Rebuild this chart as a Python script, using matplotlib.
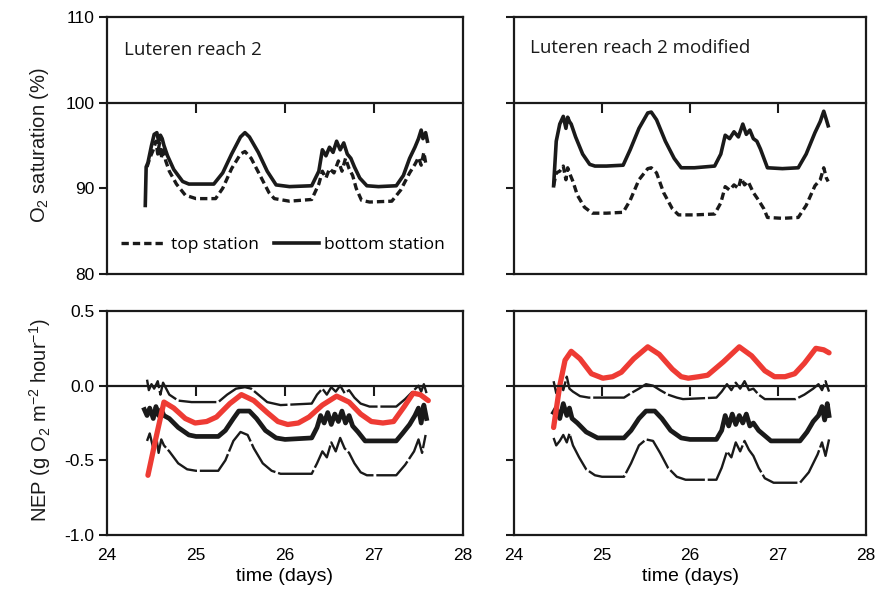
import matplotlib.pyplot as plt

plt.rcParams['font.family'] = ['Liberation Sans', 'DejaVu Sans']
plt.rcParams['mathtext.default'] = 'regular'

# ---- O2 saturation, Luteren reach 2 ----
t_tl_bot = [24.43, 24.44, 24.46, 24.50, 24.53, 24.56, 24.58, 24.60, 24.62, 24.64, 24.68, 24.75,
            24.85, 24.92, 25.05, 25.20, 25.30, 25.40, 25.50, 25.55, 25.60, 25.70, 25.80, 25.90,
            26.05, 26.30, 26.38, 26.42, 26.46, 26.50, 26.54, 26.58, 26.62, 26.66, 26.70, 26.74,
            26.78, 26.84, 26.92, 27.05, 27.25, 27.33, 27.40, 27.46, 27.50, 27.53, 27.55, 27.58, 27.60]
o2_tl_bot = [88.0, 92.5, 93.0, 95.0, 96.3, 96.5, 95.5, 96.2, 95.8, 95.0, 93.8, 92.2,
             90.8, 90.5, 90.5, 90.5, 91.8, 94.0, 96.0, 96.5, 96.0, 94.2, 92.0, 90.4,
             90.2, 90.3, 92.0, 94.5, 93.8, 94.8, 94.2, 95.5, 94.5, 95.3, 94.0, 93.5,
             92.5, 91.2, 90.3, 90.2, 90.3, 91.5, 93.5, 94.8, 95.8, 96.8, 95.8, 96.5, 95.5]

t_tl_top = [24.45, 24.48, 24.52, 24.55, 24.57, 24.59, 24.61, 24.63, 24.66, 24.70, 24.78, 24.88,
            25.00, 25.22, 25.30, 25.40, 25.50, 25.55, 25.62, 25.72, 25.82, 25.88, 26.05, 26.30,
            26.38, 26.42, 26.46, 26.50, 26.55, 26.60, 26.64, 26.68, 26.72, 26.76, 26.80, 26.86,
            26.95, 27.20, 27.30, 27.40, 27.46, 27.50, 27.53, 27.56, 27.58]
o2_tl_top = [92.5, 93.5, 94.5, 95.5, 94.0, 95.3, 93.5, 94.8, 93.2, 92.0, 90.5, 89.2,
             88.8, 88.8, 90.0, 92.3, 94.0, 94.3, 93.5, 91.5, 89.5, 88.8, 88.5, 88.7,
             90.5, 92.0, 91.2, 92.3, 91.8, 93.2, 92.0, 93.5, 92.3, 91.5, 90.0, 88.6,
             88.4, 88.5, 89.8, 91.8, 92.8, 93.6, 92.7, 94.2, 93.0]

# ---- O2 saturation, Luteren reach 2 modified ----
t_tr_bot = [24.45, 24.48, 24.52, 24.56, 24.59, 24.61, 24.63, 24.65, 24.70, 24.78, 24.86, 24.92,
            25.05, 25.24, 25.32, 25.42, 25.52, 25.56, 25.62, 25.72, 25.82, 25.90, 26.05, 26.28,
            26.35, 26.40, 26.45, 26.50, 26.55, 26.60, 26.64, 26.68, 26.72, 26.76, 26.80, 26.84,
            26.88, 27.05, 27.23, 27.32, 27.42, 27.48, 27.52, 27.55, 27.57]
o2_tr_bot = [90.3, 95.5, 97.5, 98.4, 97.0, 98.3, 97.8, 97.5, 96.0, 94.0, 92.8, 92.6,
             92.6, 92.7, 94.5, 97.0, 98.8, 98.9, 98.0, 95.5, 93.5, 92.4, 92.4, 92.6,
             94.0, 96.2, 95.8, 96.6, 96.0, 97.5, 96.3, 96.8, 95.8, 95.5, 94.6, 93.5,
             92.4, 92.3, 92.4, 94.0, 96.5, 97.8, 99.0, 98.0, 97.3]

t_tr_top = [24.45, 24.48, 24.52, 24.56, 24.59, 24.61, 24.63, 24.67, 24.72, 24.80, 24.89, 25.05,
            25.24, 25.32, 25.42, 25.52, 25.56, 25.62, 25.70, 25.80, 25.87, 26.05, 26.28, 26.35,
            26.40, 26.45, 26.50, 26.55, 26.58, 26.62, 26.66, 26.72, 26.78, 26.84, 26.88, 27.05,
            27.23, 27.32, 27.42, 27.48, 27.52, 27.55, 27.57]
o2_tr_top = [90.3, 91.8, 92.0, 92.6, 91.0, 92.4, 91.8, 90.8, 89.2, 87.8, 87.1, 87.1,
             87.2, 88.6, 91.0, 92.3, 92.4, 91.8, 89.5, 87.6, 86.9, 86.9, 87.0, 88.3,
             90.2, 89.8, 90.4, 90.0, 91.2, 90.4, 90.8, 89.5, 88.6, 87.6, 86.6, 86.5,
             86.6, 88.0, 90.3, 91.0, 92.4, 91.2, 90.8]

# ---- NEP, Luteren reach 2 ----
t_bl_red = [24.46, 24.55, 24.64, 24.75, 24.88, 24.99, 25.12, 25.23, 25.38, 25.51, 25.65, 25.80,
            25.92, 26.03, 26.15, 26.27, 26.42, 26.58, 26.72, 26.85, 26.97, 27.10, 27.22, 27.34,
            27.44, 27.52, 27.61]
nep_bl_red = [-0.60, -0.35, -0.11, -0.15, -0.22, -0.25, -0.24, -0.21, -0.12, -0.06, -0.10, -0.18,
              -0.24, -0.26, -0.25, -0.21, -0.13, -0.07, -0.11, -0.19, -0.24, -0.25, -0.24, -0.14,
              -0.05, -0.06, -0.10]

t_bl_mid = [24.42, 24.45, 24.48, 24.52, 24.55, 24.58, 24.61, 24.64, 24.70, 24.80, 24.92, 25.00,
            25.25, 25.33, 25.42, 25.48, 25.60, 25.68, 25.78, 25.90, 26.00, 26.30, 26.36, 26.40,
            26.44, 26.48, 26.52, 26.56, 26.60, 26.64, 26.68, 26.72, 26.76, 26.82, 26.90, 27.25,
            27.32, 27.40, 27.46, 27.50, 27.53, 27.56, 27.59]
nep_bl_mid = [-0.16, -0.20, -0.15, -0.22, -0.14, -0.20, -0.16, -0.20, -0.22, -0.28, -0.33, -0.34,
              -0.34, -0.30, -0.22, -0.17, -0.17, -0.22, -0.30, -0.35, -0.36, -0.35, -0.28, -0.20,
              -0.25, -0.18, -0.26, -0.19, -0.24, -0.17, -0.25, -0.20, -0.27, -0.31, -0.37, -0.37,
              -0.32, -0.26, -0.20, -0.15, -0.25, -0.13, -0.22]

t_bl_hi = [24.45, 24.47, 24.50, 24.53, 24.57, 24.60, 24.63, 24.70, 24.80, 24.95, 25.25, 25.35,
           25.45, 25.55, 25.62, 25.70, 25.80, 25.95, 26.30, 26.36, 26.42, 26.47, 26.52, 26.57,
           26.62, 26.67, 26.72, 26.78, 26.85, 26.95, 27.25, 27.35, 27.45, 27.50, 27.53, 27.56, 27.59]
nep_bl_hi = [0.04, -0.03, 0.01, -0.02, 0.03, -0.06, 0.02, -0.06, -0.10, -0.11, -0.11, -0.06,
             -0.02, -0.01, -0.02, -0.06, -0.11, -0.13, -0.12, -0.06, -0.02, -0.06, -0.01, -0.04,
             0.00, -0.05, -0.03, -0.08, -0.12, -0.14, -0.14, -0.09, -0.03, 0.00, -0.04, 0.01, -0.05]

t_bl_lo = [24.45, 24.48, 24.52, 24.55, 24.58, 24.61, 24.64, 24.70, 24.80, 24.90, 25.00, 25.25,
           25.33, 25.42, 25.50, 25.58, 25.65, 25.75, 25.85, 25.95, 26.30, 26.36, 26.42, 26.47,
           26.52, 26.57, 26.62, 26.67, 26.72, 26.78, 26.85, 26.92, 27.25, 27.35, 27.45, 27.50,
           27.54, 27.58]
nep_bl_lo = [-0.37, -0.32, -0.42, -0.33, -0.45, -0.36, -0.40, -0.44, -0.52, -0.56, -0.57, -0.57,
             -0.50, -0.37, -0.31, -0.33, -0.42, -0.52, -0.57, -0.59, -0.59, -0.52, -0.44, -0.48,
             -0.38, -0.44, -0.35, -0.42, -0.45, -0.52, -0.58, -0.60, -0.60, -0.53, -0.44, -0.36,
             -0.45, -0.33]

# ---- NEP, Luteren reach 2 modified ----
t_br_red = [24.45, 24.52, 24.58, 24.65, 24.75, 24.88, 25.01, 25.12, 25.22, 25.36, 25.52, 25.65,
            25.80, 25.90, 25.98, 26.10, 26.20, 26.38, 26.56, 26.70, 26.85, 26.96, 27.08, 27.19,
            27.30, 27.43, 27.52, 27.58]
nep_br_red = [-0.28, 0.00, 0.17, 0.23, 0.18, 0.08, 0.05, 0.06, 0.09, 0.18, 0.26, 0.21,
              0.11, 0.06, 0.05, 0.06, 0.07, 0.16, 0.26, 0.20, 0.10, 0.06, 0.06, 0.08,
              0.15, 0.25, 0.24, 0.22]

t_br_mid = [24.45, 24.48, 24.52, 24.56, 24.60, 24.63, 24.66, 24.72, 24.82, 24.95, 25.25, 25.33,
            25.42, 25.50, 25.60, 25.68, 25.78, 25.90, 26.00, 26.30, 26.36, 26.40, 26.44, 26.48,
            26.52, 26.56, 26.60, 26.64, 26.68, 26.72, 26.78, 26.84, 26.92, 27.25, 27.33, 27.40,
            27.46, 27.50, 27.53, 27.56, 27.58]
nep_br_mid = [-0.18, -0.15, -0.22, -0.12, -0.20, -0.15, -0.22, -0.25, -0.31, -0.35, -0.35, -0.30,
              -0.22, -0.17, -0.17, -0.22, -0.30, -0.35, -0.36, -0.36, -0.30, -0.20, -0.27, -0.19,
              -0.26, -0.20, -0.25, -0.19, -0.27, -0.25, -0.30, -0.33, -0.37, -0.37, -0.31, -0.24,
              -0.20, -0.14, -0.23, -0.12, -0.20]

t_br_hi = [24.45, 24.48, 24.52, 24.56, 24.60, 24.63, 24.67, 24.75, 24.85, 24.95, 25.25, 25.33,
           25.42, 25.50, 25.58, 25.66, 25.75, 25.85, 25.92, 26.30, 26.36, 26.42, 26.47, 26.52,
           26.57, 26.62, 26.67, 26.72, 26.78, 26.85, 26.92, 27.20, 27.30, 27.40, 27.46, 27.50,
           27.54, 27.58]
nep_br_hi = [0.03, -0.05, 0.01, -0.03, 0.06, -0.02, -0.04, -0.07, -0.08, -0.08, -0.08, -0.05,
             -0.02, 0.01, 0.00, -0.03, -0.06, -0.08, -0.09, -0.08, -0.04, 0.01, -0.03, 0.02,
             -0.02, 0.03, -0.03, -0.02, -0.06, -0.09, -0.09, -0.09, -0.06, -0.02, 0.01, -0.03,
             0.03, -0.04]

t_br_lo = [24.45, 24.48, 24.52, 24.56, 24.60, 24.63, 24.67, 24.74, 24.82, 24.92, 25.00, 25.25,
           25.33, 25.42, 25.50, 25.58, 25.66, 25.75, 25.85, 25.95, 26.30, 26.36, 26.42, 26.47,
           26.52, 26.57, 26.62, 26.67, 26.72, 26.78, 26.85, 26.95, 27.25, 27.35, 27.45, 27.50,
           27.54, 27.58]
nep_br_lo = [-0.35, -0.40, -0.37, -0.33, -0.38, -0.32, -0.40, -0.48, -0.56, -0.60, -0.61, -0.61,
             -0.52, -0.40, -0.36, -0.37, -0.45, -0.55, -0.61, -0.63, -0.63, -0.55, -0.44, -0.48,
             -0.38, -0.44, -0.37, -0.43, -0.47, -0.55, -0.62, -0.65, -0.65, -0.58, -0.46, -0.38,
             -0.47, -0.36]

x_ticks = [24, 25, 26, 27, 28]
cross_ticks = [25, 26, 27]
o2_ticks = [80, 90, 100, 110]
nep_ticks = [-1.0, -0.5, 0.0, 0.5]

W, H = 882, 608
fig = plt.figure(figsize=(W / 100, H / 100), dpi=100)
ink = '#1a1a1a'
red = '#ee3b34'


def make_ax(left, right, top, bottom, show_xlabels):
    ax = fig.add_axes([left / W, 1 - bottom / H, (right - left) / W, (bottom - top) / H])
    for s in ax.spines.values():
        s.set_linewidth(1.6)
        s.set_color(ink)
    ax.set_xlim(24, 28)
    # Excel-style crossing axis at 2/3 of the height (100 % and 0.0)
    ax.spines['bottom'].set_position(('axes', 2 / 3))
    ax.set_xticks(cross_ticks)
    ax.tick_params(axis='x', direction='out', length=7, width=1.5, color=ink, labelbottom=False)
    ax.tick_params(axis='y', direction='out', length=6, width=1.5, color=ink, labelsize=12.5, pad=3)
    # frame bottom + tick labels
    low = ax.secondary_xaxis('bottom')
    low.set_xticks(x_ticks)
    low.tick_params(length=0, pad=9, labelsize=12.5, labelbottom=show_xlabels)
    low.spines['bottom'].set_linewidth(1.6)
    low.spines['bottom'].set_color(ink)
    if show_xlabels:
        low.set_xlabel('time (days)', fontsize=14, labelpad=4)
    return ax


ax_tl = make_ax(107, 463, 17, 274, False)
ax_tr = make_ax(514, 866, 17, 274, False)
ax_bl = make_ax(107, 463, 311, 535, True)
ax_br = make_ax(514, 866, 311, 535, True)

for ax in (ax_tl, ax_tr):
    ax.set_ylim(80, 110)
    ax.set_yticks(o2_ticks)
for ax in (ax_bl, ax_br):
    ax.set_ylim(-1.0, 0.5)
    ax.set_yticks(nep_ticks)
    ax.set_yticklabels(['%.1f' % v for v in nep_ticks])
for ax in (ax_tr, ax_br):
    ax.tick_params(axis='y', labelleft=False)

dash = (0, (2.2, 1.2))
ax_tl.plot(t_tl_top, o2_tl_top, color=ink, lw=2.4, ls=dash, label='top station')
ax_tl.plot(t_tl_bot, o2_tl_bot, color=ink, lw=2.6, label='bottom station')
ax_tr.plot(t_tr_top, o2_tr_top, color=ink, lw=2.4, ls=dash)
ax_tr.plot(t_tr_bot, o2_tr_bot, color=ink, lw=2.6)

thin = (0, (16, 1.2))
for ax, th, yh, tl, yl, tm, ym, tr, yr in (
        (ax_bl, t_bl_hi, nep_bl_hi, t_bl_lo, nep_bl_lo, t_bl_mid, nep_bl_mid, t_bl_red, nep_bl_red),
        (ax_br, t_br_hi, nep_br_hi, t_br_lo, nep_br_lo, t_br_mid, nep_br_mid, t_br_red, nep_br_red)):
    ax.plot(th, yh, color=ink, lw=1.7, ls=thin)
    ax.plot(tl, yl, color=ink, lw=1.7, ls=thin)
    ax.plot(tm, ym, color=ink, lw=3.4)
    ax.plot(tr, yr, color=red, lw=3.8, solid_capstyle='round')

ax_tl.text(0.048, 0.87, 'Luteren reach 2', transform=ax_tl.transAxes, fontsize=13.5,
           family='Open Sans', va='center', color=ink)
ax_tr.text(0.045, 0.88, 'Luteren reach 2 modified', transform=ax_tr.transAxes, fontsize=13.5,
           family='Open Sans', va='center', color=ink)

ax_tl.legend(loc='center left', bbox_to_anchor=(0.02, 0.113), ncol=2, frameon=False,
             handlelength=2.6, columnspacing=0.9, handletextpad=0.25, borderaxespad=0,
             prop={'family': 'Open Sans', 'size': 12.5})

fig.text(40 / W, 1 - 145 / H, r'O$_2$ saturation (%)', rotation=90, fontsize=14.5,
         ha='center', va='center', color=ink)
fig.text(40 / W, 1 - 420 / H, r'NEP (g O$_2$ m$^{-2}$ hour$^{-1}$)', rotation=90, fontsize=14.5,
         ha='center', va='center', color=ink)

fig.savefig('out.png', dpi=100)
